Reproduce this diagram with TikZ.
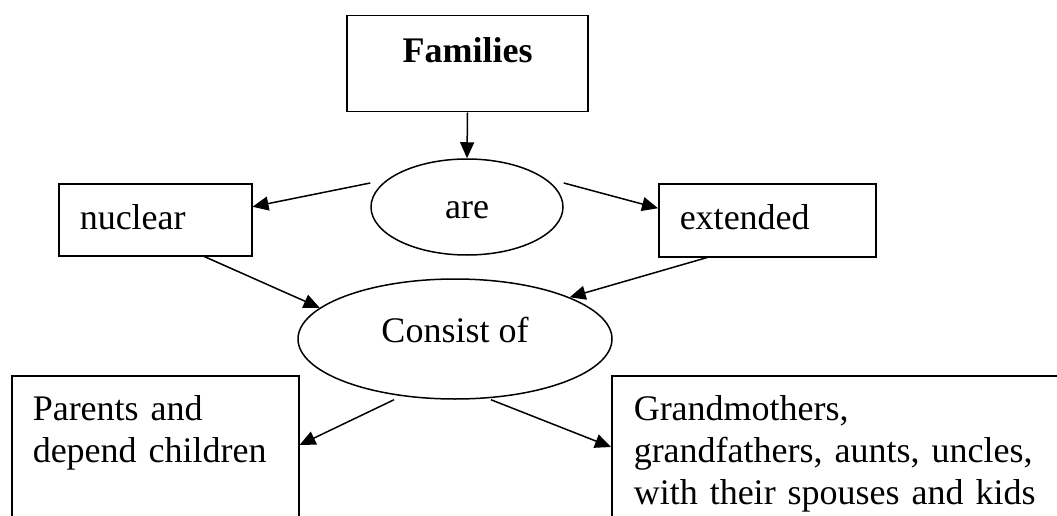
\documentclass[tikz,border=0pt]{standalone}
\usepackage{fontspec}
\setmainfont{Liberation Serif}
\usetikzlibrary{arrows.meta,shapes.geometric}

\tikzset{
  box/.style={draw,rectangle,line width=1.5pt,inner xsep=21pt,align=left,text height=25pt,text depth=6pt},
  oval/.style={draw,ellipse,line width=1.5pt,inner sep=0pt},
  arr/.style={-{Triangle[length=16pt,width=14pt]},line width=1.5pt}
}

\begin{document}
\begin{tikzpicture}[x=1pt,y=-1pt,font=\fontsize{36}{42}\selectfont]
		\useasboundingbox (0,0) rectangle (1057,516);
		\clip (0,0) rectangle (1057,516);
		
		\node(fam) at (467.5,15)[box,anchor=north,minimum width=241pt,inner ysep=22pt,text depth=27pt,align=center,font=\fontsize{36}{42}\selectfont\bfseries]{Families};
		\node(are) at (467,207)[oval,minimum width=192pt,minimum height=96pt,text height=22pt,text depth=0pt]{are};
		\node(nuc) at (58,183)[box,anchor=north west,text width=151pt,minimum height=72pt]{nuclear};
		\node(ext) at (658,183)[box,anchor=north west,text width=175pt,minimum height=73pt]{extended};
		\node(cons) at (455,339)[oval,minimum width=314pt,minimum height=120pt,text height=25pt,text depth=18pt]{Consist of};
		\node(par) at (11,375)[box,anchor=north west,text width=245pt,inner ysep=20pt,text depth=140pt]{Parents and\\depend children};
		\node(gra) at (611,375)[box,anchor=north west,inner xsep=22pt,text width=430pt,inner ysep=20pt,text depth=140pt]{Grandmothers,\\grandfathers, aunts, uncles,\\with their spouses and kids};
		
		\draw[arr] (fam.south) -- (are.north);
		\draw[arr] ([yshift=24pt]are.west) -- ([yshift=13pt]nuc.east);
		\draw[arr] ([yshift=24pt]are.east) -- ([yshift=12pt]ext.west);
		\draw[arr] ([xshift=49pt]nuc.south) -- (cons.167);
		\draw[arr] ([xshift=-60pt]ext.south) -- (cons.20);
		\draw[arr] ([xshift=-61pt]cons.south) -- ([yshift=-70pt]par.north east);
		\draw[arr] ([xshift=36pt]cons.south) -- ([yshift=-72pt]gra.north west);
	\end{tikzpicture}
\end{document}
